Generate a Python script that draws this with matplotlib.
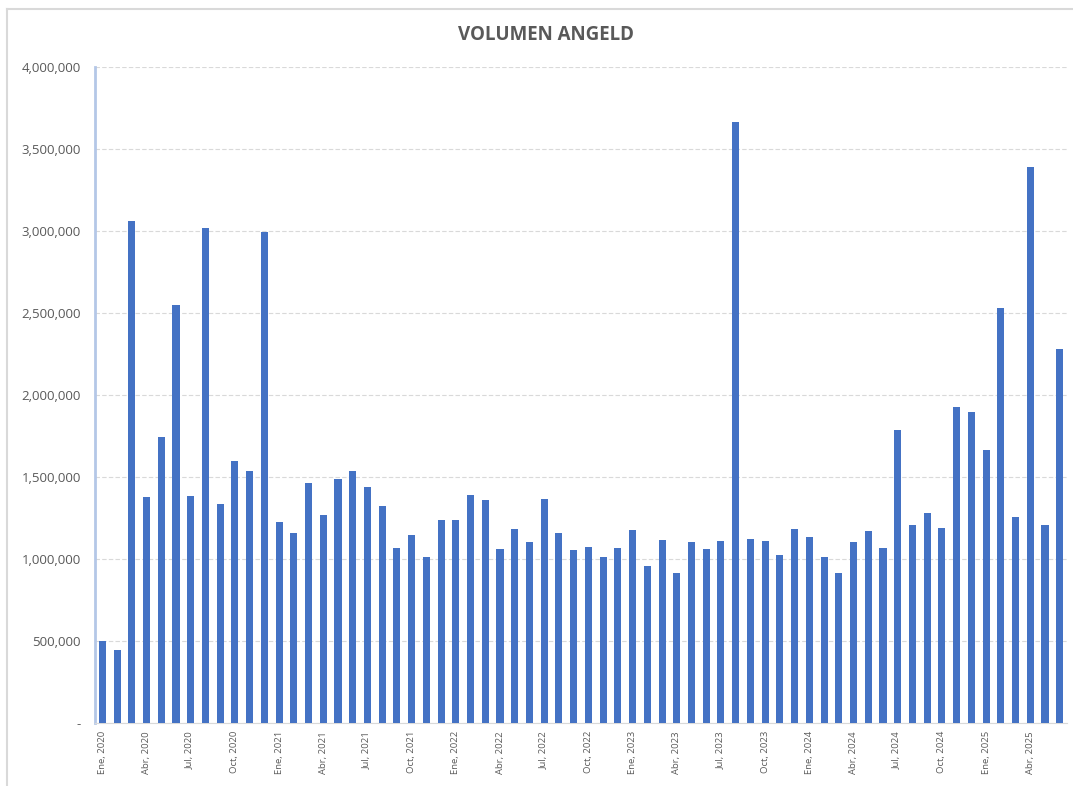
import matplotlib.pyplot as plt
from matplotlib.lines import Line2D
from matplotlib.ticker import FuncFormatter, MultipleLocator

# === DATA ===
MONTHS = ["Ene", "Feb", "Mar", "Abr", "May", "Jun",
          "Jul", "Ago", "Sep", "Oct", "Nov", "Dic"]
YEARS = [2020, 2021, 2022, 2023, 2024, 2025]

vol_2020 = [500000, 445000, 3060000, 1375000, 1745000, 2550000,
            1380000, 3015000, 1332000, 1597000, 1537000, 2990000]
vol_2021 = [1222000, 1155000, 1463000, 1266000, 1488000, 1537000,
            1435000, 1321000, 1067000, 1143000, 1010000, 1238000]
vol_2022 = [1238000, 1387000, 1358000, 1057000, 1183000, 1104000,
            1364000, 1159000, 1051000, 1073000, 1010000, 1067000]
vol_2023 = [1177000, 957000, 1112000, 911000, 1104000, 1061000,
            1110000, 3660000, 1118000, 1110000, 1024000, 1179000]
vol_2024 = [1134000, 1012000, 911000, 1104000, 1171000, 1067000,
            1785000, 1205000, 1280000, 1187000, 1923000, 1895000]
vol_2025 = [1663000, 2527000, 1254000, 3390000, 1205000, 2281000]

volumes = vol_2020 + vol_2021 + vol_2022 + vol_2023 + vol_2024 + vol_2025
labels = [f"{m}, {y}" for y in YEARS for m in MONTHS][:len(volumes)]

TITLE = "VOLUMEN ANGELD"
BAR_COLOR = "#4472C4"
TEXT_COLOR = "#595959"

plt.rcParams['font.family'] = ['Open Sans', 'DejaVu Sans']

# === PLOT ===
fig = plt.figure(figsize=(10.73, 7.86), dpi=100)
ax = fig.add_axes([0.0885, 0.0805, 0.906, 0.8346])

x = list(range(len(volumes)))
ax.bar(x, volumes, width=0.48, color=BAR_COLOR, zorder=3)

ax.set_xlim(-0.5, len(volumes) - 0.5)
ax.set_ylim(0, 4000000)
ax.yaxis.set_major_locator(MultipleLocator(500000))
ax.yaxis.set_major_formatter(FuncFormatter(lambda v, p: "-" if v == 0 else f"{v:,.0f}"))
ax.grid(axis="y", linestyle=(0, (4, 2)), color="#d9d9d9", linewidth=0.8, zorder=0)

ax.set_xticks(x[::3])
ax.set_xticklabels(labels[::3], rotation=90, fontsize=6.8, color=TEXT_COLOR)
ax.tick_params(axis="x", length=0, pad=6)
ax.tick_params(axis="y", length=0, pad=10, labelsize=9.5, labelcolor=TEXT_COLOR)

for s in ["top", "right"]:
    ax.spines[s].set_visible(False)
ax.spines["bottom"].set_color("#d9d9d9")
ax.spines["left"].set_color("#b4c7e7")
ax.spines["left"].set_linewidth(2)

fig.text(0.509, 0.955, TITLE, ha="center", va="center", fontsize=13.5,
         fontweight="bold", color=TEXT_COLOR)

# light frame (left and top edges) around the chart area
fx, fy = 7 / 1073, 1 - 9 / 786
fig.add_artist(Line2D([fx, fx], [0, fy], transform=fig.transFigure,
                      color="#d9d9d9", linewidth=1.5))
fig.add_artist(Line2D([fx, 1], [fy, fy], transform=fig.transFigure,
                      color="#d9d9d9", linewidth=1.5))

plt.savefig("out.png", dpi=100)
